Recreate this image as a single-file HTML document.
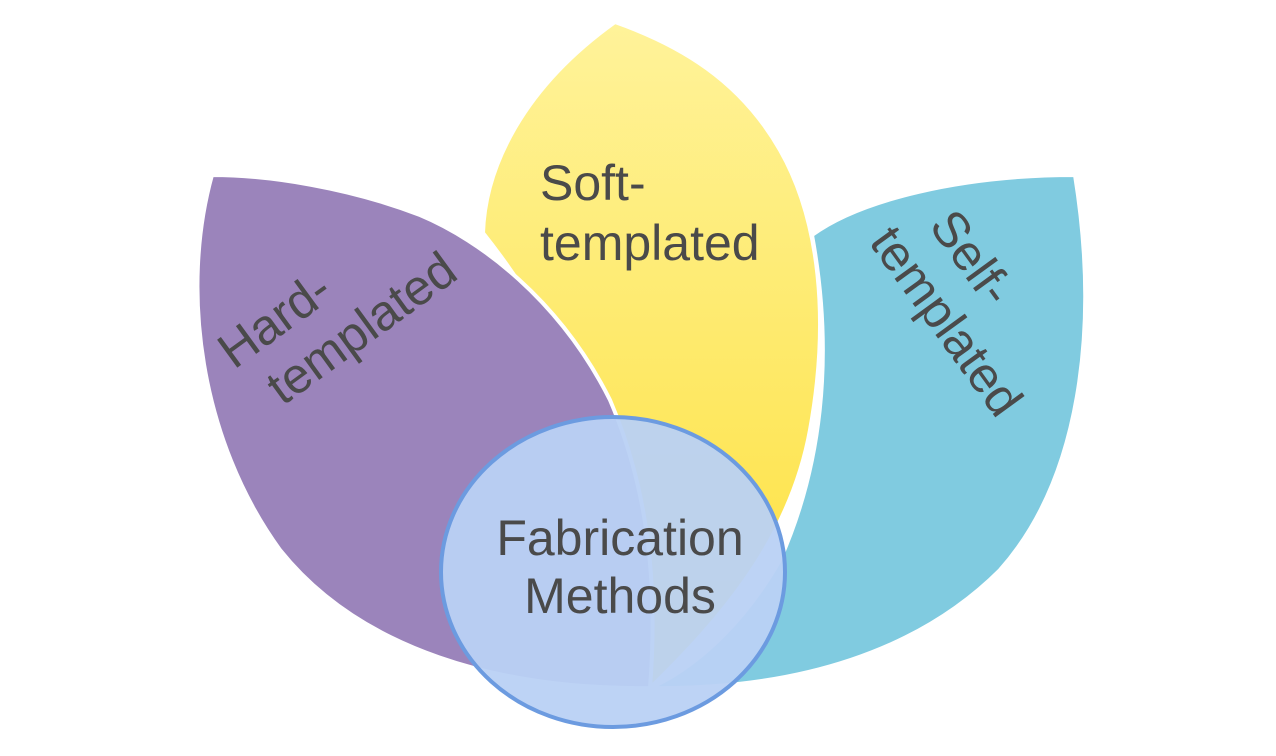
<!DOCTYPE html>
<html><head><style>body{margin:0;background:#fff}svg{display:block}</style></head><body>
<svg width="1276" height="756" viewBox="0 0 1276 756" xmlns="http://www.w3.org/2000/svg">
<defs>
<linearGradient id="yg" x1="0" y1="0" x2="0" y2="1">
<stop offset="0" stop-color="#fff39a"/><stop offset="1" stop-color="#fde03a"/></linearGradient>
</defs>
<path d="M615,22 C520,90 485,170 483,233 C560,330 620,450 650,688 C720,620 790,540 810,430 C830,320 820,220 780,150 C740,80 680,45 615,22 Z" fill="url(#yg)" stroke="#fff" stroke-width="4"/>
<path d="M1075,175 C960,175 860,200 812,235 C835,360 820,470 780,560 C740,630 690,670 650,688 C800,690 920,650 1000,570 C1080,480 1100,330 1075,175 Z" fill="#80cbe0" stroke="#fff" stroke-width="4"/>
<path d="M212,175 C180,290 200,440 280,550 C360,650 500,690 650,688 C660,560 640,470 610,400 C560,300 480,240 420,215 C350,188 270,175 212,175 Z" fill="#9b84bb" stroke="#fff" stroke-width="4"/>
<ellipse cx="613" cy="572" rx="172" ry="155" fill="#b9d1f4" fill-opacity="0.95" stroke="#6c9be0" stroke-width="4"/>
<g font-family="Liberation Sans, sans-serif" font-size="50" fill="#4a4a4a">
<text x="540" y="200">Soft-</text>
<text x="540" y="260">templated</text>
<g transform="translate(234,370) rotate(-36)"><text x="0" y="0">Hard-</text><text x="18" y="58">templated</text></g>
<g transform="translate(928,226) rotate(54)"><text x="0" y="0">Self-</text><text x="-22" y="58">templated</text></g>
<text x="620" y="555" text-anchor="middle">Fabrication</text>
<text x="620" y="613" text-anchor="middle">Methods</text>
</g>
</svg>
</body></html>
